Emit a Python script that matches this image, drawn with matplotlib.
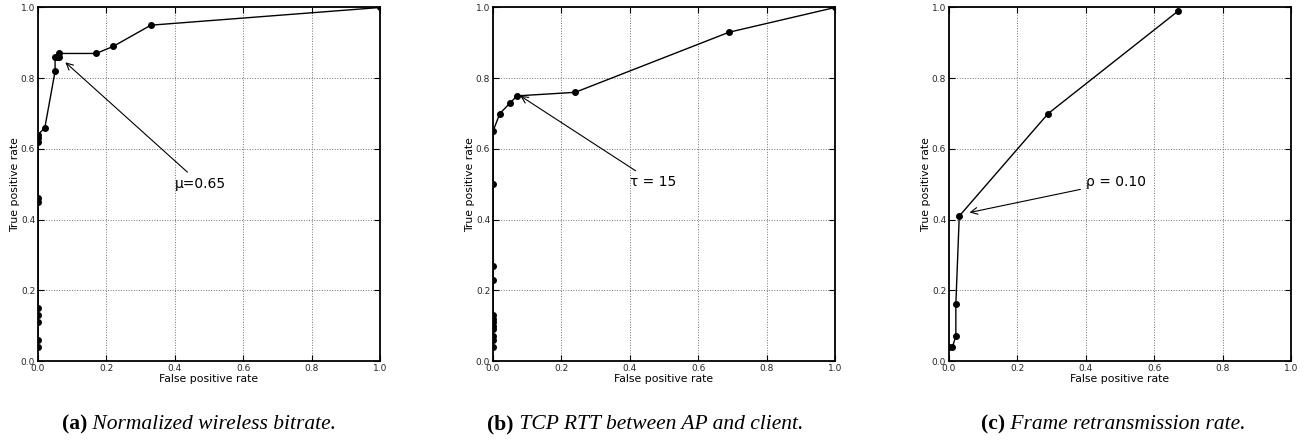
import matplotlib
matplotlib.use('Agg')
import matplotlib.pyplot as plt

# ROC points
fpr_a = [0.0, 0.0, 0.0, 0.0, 0.0, 0.0, 0.0, 0.0, 0.0, 0.0, 0.02, 0.05, 0.05, 0.055, 0.06, 0.06, 0.17, 0.22, 0.33, 1.0]
tpr_a = [0.04, 0.06, 0.11, 0.13, 0.15, 0.45, 0.46, 0.62, 0.63, 0.64, 0.66, 0.82, 0.86, 0.86, 0.86, 0.87, 0.87, 0.89, 0.95, 1.0]

fpr_b = [0.0, 0.0, 0.0, 0.0, 0.0, 0.0, 0.0, 0.0, 0.0, 0.0, 0.0, 0.0, 0.02, 0.05, 0.07, 0.24, 0.69, 1.0]
tpr_b = [0.04, 0.06, 0.07, 0.09, 0.10, 0.11, 0.12, 0.13, 0.23, 0.27, 0.50, 0.65, 0.70, 0.73, 0.75, 0.76, 0.93, 1.0]

fpr_c = [0.0, 0.01, 0.02, 0.02, 0.03, 0.29, 0.67]
tpr_c = [0.04, 0.04, 0.07, 0.16, 0.41, 0.70, 0.99]

notes = ['μ=0.65', 'τ = 15', 'ρ = 0.10']
note_xy = [(0.08, 0.845), (0.08, 0.75), (0.06, 0.42)]
note_text_xy = [(0.40, 0.49), (0.40, 0.495), (0.40, 0.495)]

cap_tags = ['(a)', '(b)', '(c)']
cap_texts = ['Normalized wireless bitrate.',
             'TCP RTT between AP and client.',
             'Frame retransmission rate.']
caption_x = [199, 645, 1113]

W, H = 1305, 440
fig = plt.figure(figsize=(W / 100, H / 100), dpi=100)

lefts = [38, 493, 949]
data = [(fpr_a, tpr_a), (fpr_b, tpr_b), (fpr_c, tpr_c)]

for i in range(3):
    ax = fig.add_axes([lefts[i] / W, 1 - 361 / H, 342 / W, 353.5 / H])
    xs, ys = data[i]
    ax.plot(xs, ys, '-o', color='k', lw=1.0, ms=4, zorder=3)
    ax.set_xlim(0, 1)
    ax.set_ylim(0, 1)
    ax.set_xticks([0, 0.2, 0.4, 0.6, 0.8, 1.0])
    ax.set_yticks([0, 0.2, 0.4, 0.6, 0.8, 1.0])
    ax.grid(True, linestyle=':', color='0.45', linewidth=0.7)
    ax.tick_params(direction='in', top=True, right=True, length=4, width=0.8,
                   labelsize=6.5, pad=2, labelcolor='0.15')
    for s in ax.spines.values():
        s.set_linewidth(1.3)
    ax.set_xlabel('False positive rate', fontsize=7.8)
    ax.set_ylabel('True positive rate', fontsize=7.8)
    ax.xaxis.label.set_va('center')
    ax.yaxis.label.set_va('center')
    ax.xaxis.set_label_coords(0.5, -0.051)
    ax.yaxis.set_label_coords(-0.068, 0.5)

    ax.annotate(notes[i], xy=note_xy[i], xytext=note_text_xy[i], fontsize=10,
                arrowprops=dict(arrowstyle='->', color='k', lw=0.8,
                                shrinkA=2, shrinkB=0, mutation_scale=12))

# captions: bold tag followed by italic serif text, centred as a whole
r = fig.canvas.get_renderer()
for i in range(3):
    tag = fig.text(0, 1 - 424 / H, cap_tags[i], fontsize=15.5, weight='bold',
                   family='Liberation Serif', va='center', ha='left')
    body = fig.text(0, 1 - 424 / H, ' ' + cap_texts[i], fontsize=15.5, style='italic',
                    family='Liberation Serif', va='center', ha='left')
    w1 = tag.get_window_extent(r).width
    w2 = body.get_window_extent(r).width
    x0 = caption_x[i] - (w1 + w2) / 2
    tag.set_x(x0 / W)
    body.set_x((x0 + w1) / W)

fig.savefig('out.png', dpi=100)
